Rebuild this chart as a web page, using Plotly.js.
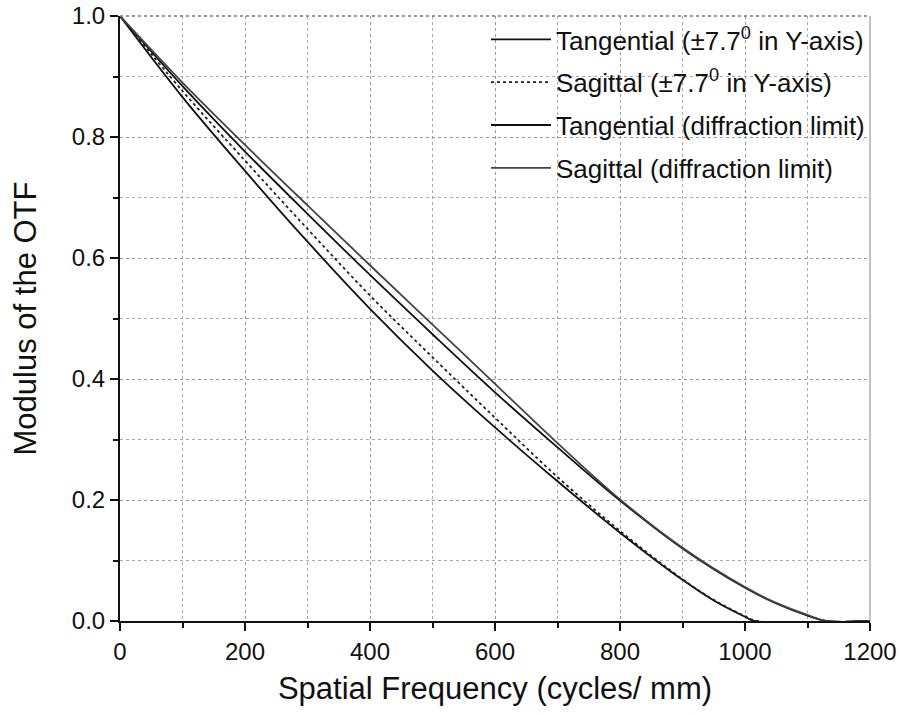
<!DOCTYPE html>
<html>
<head>
<meta charset="utf-8">
<script src="https://cdn.plot.ly/plotly-3.0.1.min.js"></script>
<style>html,body{margin:0;padding:0;background:#fff;}#chart{width:899px;height:715px;}</style>
</head>
<body>
<div id="chart"></div>
<script>
// Spatial frequency samples (cycles/mm)
const freqA = [0, 100, 200, 300, 400, 500, 600, 700, 800, 900, 950, 1000, 1015, 1200];
const tanField = [1.0, 0.866, 0.744, 0.627, 0.516, 0.414, 0.320, 0.231, 0.146, 0.068, 0.034, 0.007, 0.0, 0.0];

const freqB = [0, 100, 200, 300, 400, 500, 600, 700, 800, 900, 950, 1000, 1020, 1200];
const sagField = [1.0, 0.876, 0.761, 0.648, 0.538, 0.436, 0.336, 0.238, 0.149, 0.069, 0.035, 0.008, 0.0, 0.0];

const freqC = [0, 100, 200, 300, 400, 500, 600, 700, 800, 900, 1000, 1050, 1100, 1130, 1200];
const tanDiff = [1.0, 0.884, 0.776, 0.673, 0.572, 0.474, 0.378, 0.287, 0.199, 0.120, 0.055, 0.029, 0.009, 0.0, 0.0];

const freqD = [0, 100, 200, 300, 400, 500, 600, 700, 800, 900, 1000, 1050, 1100, 1130, 1200];
const sagDiff = [1.0, 0.890, 0.787, 0.687, 0.588, 0.490, 0.392, 0.294, 0.201, 0.121, 0.056, 0.030, 0.010, 0.0, 0.0];

const names = [
  'Tangential (±7.7<sup>0</sup> in Y-axis)',
  'Sagittal (±7.7<sup>0</sup> in Y-axis)',
  'Tangential (diffraction limit)',
  'Sagittal (diffraction limit)'
];

const xTickVals = [0, 200, 400, 600, 800, 1000, 1200];
const yTickVals = [0.0, 0.2, 0.4, 0.6, 0.8, 1.0];

const font = 'Liberation Sans, Arial, sans-serif';

const traces = [
  {x: freqA, y: tanField, name: names[0], legendgroup: 'a', line: {color: '#111', width: 1.8, dash: 'solid', shape: 'spline'}},
  {x: freqB, y: sagField, name: names[1], legendgroup: 'b', line: {color: '#222', width: 1.8, dash: 'dot', shape: 'spline'}},
  {x: freqC, y: tanDiff, name: names[2], legendgroup: 'c', line: {color: '#111', width: 1.8, dash: 'solid', shape: 'spline'}},
  {x: freqD, y: sagDiff, name: names[3], legendgroup: 'd', line: {color: '#444', width: 1.8, dash: 'solid', shape: 'spline'}}
].map(t => Object.assign({type: 'scatter', mode: 'lines'}, t));

const layout = {
  width: 899, height: 715,
  margin: {l: 120, r: 29, t: 16, b: 94},
  paper_bgcolor: '#fff', plot_bgcolor: '#fff',
  font: {family: font, color: '#111', size: 24},
  showlegend: true,
  legend: {
    x: 1.0, xanchor: 'right', y: 1.0, yanchor: 'top',
    bgcolor: 'rgba(255,255,255,0)', borderwidth: 0,
    font: {family: font, size: 26, color: '#111'},
    tracegroupgap: 6, itemwidth: 60
  },
  xaxis: {
    range: [0, 1200], tickvals: xTickVals, ticktext: xTickVals.map(String),
    ticks: 'outside', ticklen: 8, tickwidth: 2, tickcolor: '#111',
    showline: true, linecolor: '#111', linewidth: 2,
    showgrid: true, gridcolor: '#999', griddash: 'dot', gridwidth: 1,
    zeroline: false,
    minor: {dtick: 100, ticks: 'outside', ticklen: 5, tickwidth: 2, tickcolor: '#111', showgrid: true, gridcolor: '#aaa', griddash: 'dot', gridwidth: 1},
    tickfont: {size: 24, family: font},
    title: {text: 'Spatial Frequency (cycles/ mm)', font: {size: 31, family: font}, standoff: 14}
  },
  yaxis: {
    range: [0, 1.0], tickvals: yTickVals, ticktext: yTickVals.map(v => v.toFixed(1)),
    ticks: 'outside', ticklen: 8, tickwidth: 2, tickcolor: '#111',
    showline: true, linecolor: '#111', linewidth: 2,
    showgrid: true, gridcolor: '#999', griddash: 'dot', gridwidth: 1,
    zeroline: false,
    minor: {dtick: 0.1, ticks: 'outside', ticklen: 5, tickwidth: 2, tickcolor: '#111', showgrid: true, gridcolor: '#aaa', griddash: 'dot', gridwidth: 1},
    tickfont: {size: 24, family: font},
    title: {text: 'Modulus of the OTF', font: {size: 31, family: font}, standoff: 26}
  },
  shapes: [
    {type: 'line', xref: 'paper', yref: 'paper', x0: 1, x1: 1, y0: 0, y1: 1, line: {color: '#888', width: 1}},
    {type: 'line', xref: 'paper', yref: 'paper', x0: 0, x1: 1, y0: 1, y1: 1, line: {color: '#777', width: 1.5, dash: 'dot'}}
  ]
};

Plotly.newPlot('chart', traces, layout, {displayModeBar: false, staticPlot: true});
</script>
</body>
</html>
